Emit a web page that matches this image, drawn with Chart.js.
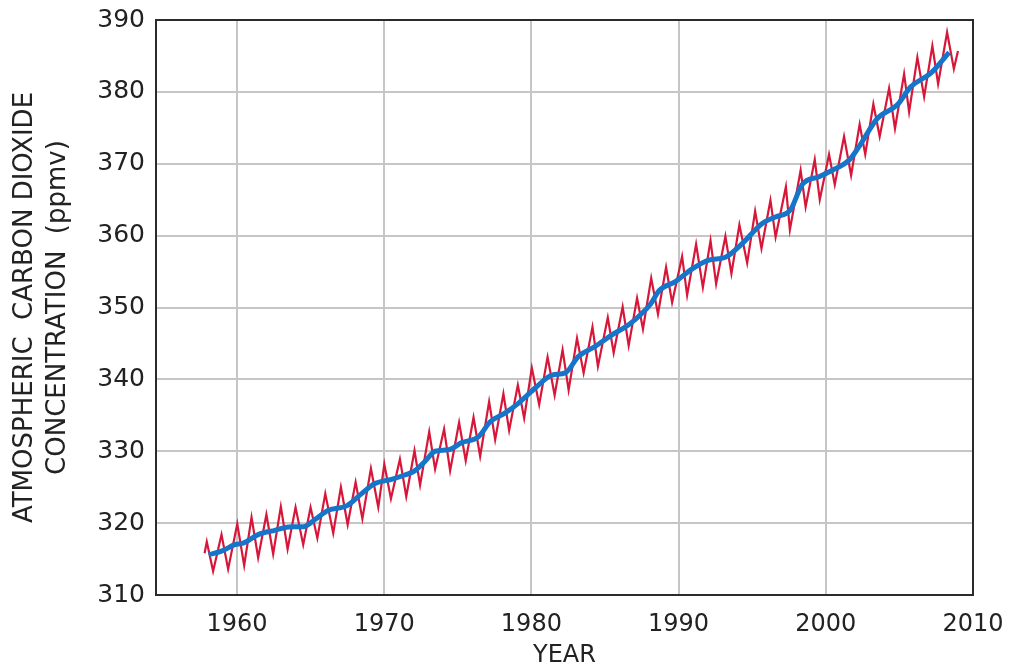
<!DOCTYPE html>
<html>
<head>
<meta charset="utf-8">
<script src="https://cdn.jsdelivr.net/npm/chart.js@4.4.1/dist/chart.umd.min.js"></script>
<style>
    body { margin: 0; background: #fff; }
    #wrap { width: 1011px; height: 671px; }
</style>
</head>
<body>
<div id="wrap"><canvas id="co2Chart" width="1011" height="671"></canvas></div>
<script>
// Datos (curva estacional, máximos y mínimos)
const redYears = [1957.80, 1957.95, 1958.38, 1958.95, 1959.40, 1960.02, 1960.49, 1960.99, 1961.44, 1962.00,
    1962.46, 1962.98, 1963.44, 1963.98, 1964.50, 1965.00, 1965.46, 1966.00, 1966.54, 1967.06,
    1967.52, 1968.06, 1968.52, 1969.10, 1969.60, 1970.01, 1970.46, 1971.07, 1971.50, 1972.06,
    1972.44, 1973.06, 1973.46, 1974.07, 1974.48, 1975.09, 1975.54, 1976.07, 1976.52, 1977.13,
    1977.54, 1978.10, 1978.49, 1979.08, 1979.51, 1980.03, 1980.53, 1981.10, 1981.58, 1982.12,
    1982.53, 1983.10, 1983.55, 1984.15, 1984.52, 1985.19, 1985.59, 1986.20, 1986.61, 1987.18,
    1987.58, 1988.14, 1988.60, 1989.15, 1989.56, 1990.24, 1990.58, 1991.19, 1991.65, 1992.17,
    1992.55, 1993.18, 1993.59, 1994.13, 1994.66, 1995.20, 1995.63, 1996.24, 1996.59, 1997.29,
    1997.56, 1998.29, 1998.63, 1999.25, 1999.59, 2000.22, 2000.61, 2001.24, 2001.72, 2002.30,
    2002.68, 2003.23, 2003.66, 2004.30, 2004.70, 2005.32, 2005.66, 2006.22, 2006.68, 2007.24,
    2007.63, 2008.24, 2008.70, 2008.98];
const redValues = [315.8, 317.4, 313.3, 318.4, 313.6, 319.9, 314.1, 320.8, 315.2, 321.2,
    315.7, 322.3, 316.4, 322.2, 317.0, 322.2, 317.9, 324.1, 318.6, 325.0,
    319.8, 325.7, 320.6, 327.6, 322.2, 328.2, 323.4, 328.9, 323.7, 330.1,
    325.3, 332.7, 327.5, 333.1, 327.3, 334.0, 328.7, 334.7, 329.3, 336.9,
    331.6, 338.0, 332.9, 339.2, 334.6, 341.6, 336.5, 343.1, 337.8, 344.1,
    338.5, 345.7, 340.9, 347.3, 341.8, 348.6, 343.7, 350.1, 344.7, 351.3,
    347.0, 354.1, 349.1, 355.6, 350.7, 357.1, 351.7, 358.8, 352.8, 359.3,
    353.3, 359.9, 354.7, 361.5, 356.2, 363.4, 358.2, 364.9, 359.8, 366.8,
    360.8, 369.1, 364.0, 370.6, 365.0, 371.3, 367.1, 373.8, 368.4, 375.5,
    371.3, 378.3, 373.8, 380.5, 374.9, 382.5, 377.2, 384.8, 379.3, 386.4,
    381.1, 388.3, 383.2, 385.7];

// Tendencia suavizada (línea azul)
const blueYears = [1958.08, 1958.95, 1959.85, 1960.40, 1961.44, 1962.57, 1963.70, 1964.50, 1965.30, 1966.20,
    1967.45, 1968.47, 1969.37, 1970.50, 1971.40, 1972.10, 1972.78, 1973.46, 1974.37, 1975.27,
    1976.40, 1977.20, 1978.20, 1979.13, 1980.26, 1981.40, 1982.30, 1983.20, 1984.34, 1985.48,
    1986.61, 1987.52, 1988.10, 1988.70, 1989.78, 1990.80, 1992.05, 1993.18, 1994.32, 1995.68,
    1996.58, 1997.60, 1998.40, 1999.54, 2000.44, 2001.58, 2002.20, 2003.50, 2004.86, 2005.77,
    2007.13, 2008.38];
const blueValues = [315.6, 316.1, 317.0, 317.2, 318.4, 319.0, 319.5, 319.5, 320.5, 321.8,
    322.4, 324.1, 325.5, 326.1, 326.7, 327.3, 328.6, 330.0, 330.2, 331.2,
    332.0, 334.1, 335.3, 336.7, 338.8, 340.6, 340.9, 343.2, 344.6, 346.2,
    347.6, 349.2, 350.5, 352.4, 353.6, 355.2, 356.6, 357.0, 358.9, 361.7,
    362.6, 363.6, 367.1, 368.2, 369.1, 370.5, 372.2, 376.3, 378.2, 380.7,
    382.6, 385.5];

// Etiquetas de los ejes
const xTickYears = [1960, 1970, 1980, 1990, 2000, 2010];
const yTitleLines = ['ATMOSPHERIC  CARBON DIOXIDE', 'CONCENTRATION  (ppmv)'];
const xTitle = 'YEAR';

const redData = redYears.map((x, i) => ({ x: x, y: redValues[i] }));
const blueData = blueYears.map((x, i) => ({ x: x, y: blueValues[i] }));

// Marco negro alrededor del área del gráfico
const frame = {
    id: 'frame',
    afterDraw(chart) {
        const { ctx, chartArea: a } = chart;
        ctx.save();
        ctx.strokeStyle = '#2b2b2b';
        ctx.lineWidth = 2;
        ctx.strokeRect(a.left, a.top, a.right - a.left, a.bottom - a.top);
        ctx.restore();
    }
};

const font = 'DejaVu Sans, sans-serif';

const ctx = document.getElementById('co2Chart').getContext('2d');
// La línea azul va primero para que quede dibujada encima de la roja
const co2Chart = new Chart(ctx, {
    type: 'line',
    data: {
        datasets: [
            {
                label: 'Trend',
                data: blueData,
                borderColor: '#1675c8',
                borderWidth: 5,
                pointRadius: 0,
                cubicInterpolationMode: 'monotone',
                fill: false
            },
            {
                label: 'Seasonal',
                data: redData,
                borderColor: '#d7173a',
                borderWidth: 2.2,
                pointRadius: 0,
                tension: 0,
                fill: false
            }
        ]
    },
    options: {
        responsive: false,
        animation: false,
        layout: { padding: { top: 20, right: 38, left: 0, bottom: 0 } },
        plugins: {
            legend: { display: false },
            tooltip: { enabled: false }
        },
        scales: {
            x: {
                type: 'linear',
                min: 1954.5,
                max: 2010,
                afterBuildTicks: (axis) => { axis.ticks = xTickYears.map(v => ({ value: v })); },
                afterFit: (axis) => {
                    axis.height = 76;
                    axis.paddingLeft = 0;
                    axis.paddingRight = 0;
                },
                grid: { color: '#c6c6c6', lineWidth: 2, drawTicks: false },
                border: { display: false },
                ticks: {
                    padding: 15,
                    color: '#222',
                    font: { family: font, size: 24 },
                    callback: (v) => String(v)
                },
                title: {
                    display: true,
                    text: xTitle,
                    color: '#222',
                    font: { family: font, size: 24, lineHeight: 1.0 },
                    padding: { top: 0, bottom: 3 }
                }
            },
            y: {
                min: 310,
                max: 390,
                afterFit: (axis) => {
                    axis.width = 156;
                    axis.paddingTop = 0;
                    axis.paddingBottom = 0;
                },
                grid: { color: '#c6c6c6', lineWidth: 2, drawTicks: false },
                border: { display: false },
                ticks: {
                    stepSize: 10,
                    padding: 11,
                    color: '#222',
                    font: { family: font, size: 25 }
                },
                title: {
                    display: true,
                    text: yTitleLines,
                    color: '#222',
                    font: { family: font, size: 26, lineHeight: 1.3 },
                    padding: { top: 8, bottom: 0 }
                }
            }
        }
    },
    plugins: [frame]
});
</script>
</body>
</html>
